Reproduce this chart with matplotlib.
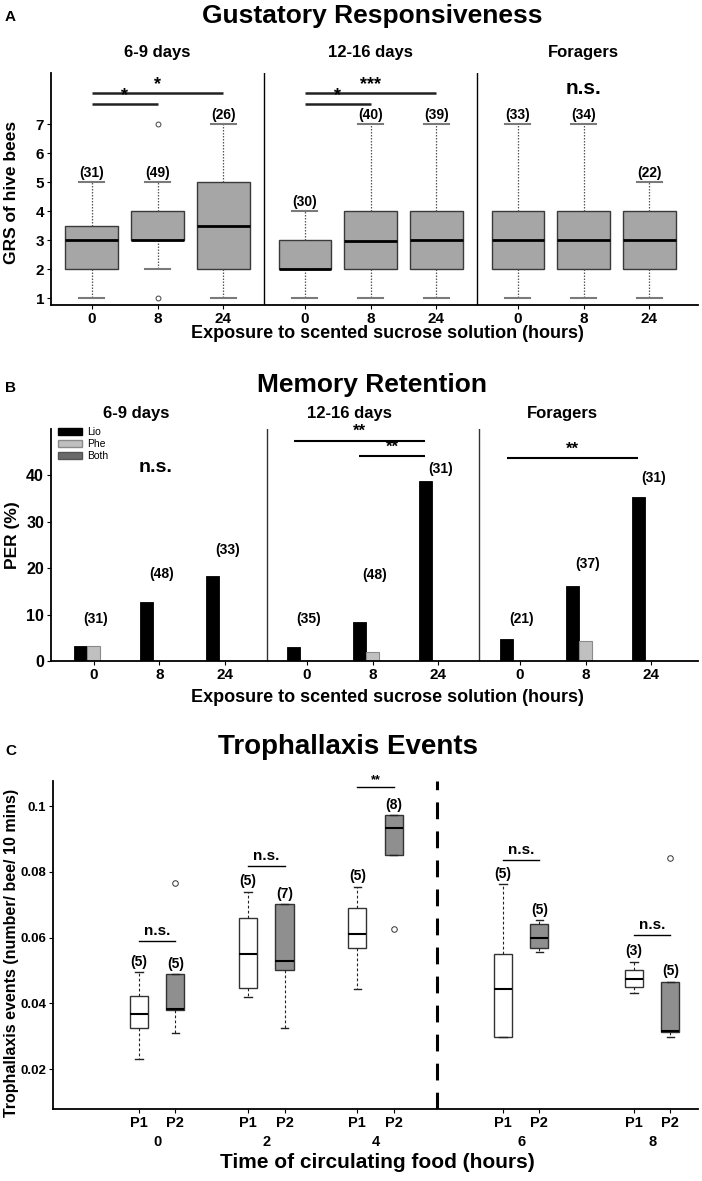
import matplotlib
matplotlib.use('Agg')
import matplotlib.pyplot as plt
import numpy as np
from matplotlib.patches import Patch
from matplotlib.transforms import blended_transform_factory

plt.rcParams['font.family'] = ['Liberation Sans', 'DejaVu Sans']
plt.rcParams['font.weight'] = 'bold'
plt.rcParams['axes.labelweight'] = 'bold'

# ---------------- data ----------------
# Panel A: Gustatory responsiveness (GRS)
A_groups = ['6-9 days', '12-16 days', 'Foragers']
A_hours = ['0', '8', '24']
A_whislo = [[1, 2, 1], [1, 1, 1], [1, 1, 1]]
A_q1 = [[2, 3, 2], [2, 2, 2], [2, 2, 2]]
A_med = [[3, 3, 3.5], [2, 2.97, 3], [3, 3, 3]]
A_q3 = [[3.5, 4, 5], [3, 4, 4], [4, 4, 4]]
A_whishi = [[5, 5, 7], [4, 7, 7], [7, 7, 5]]
A_fliers = [[[], [7, 1], []], [[], [], []], [[], [], []]]
A_n = [[31, 49, 26], [30, 40, 39], [33, 34, 22]]
A_sig_text = ['*', '*', '*', '***']

# Panel B: Memory retention (PER %)
B_series = ['Lio', 'Phe', 'Both']
B_lio = [[3.2, 12.7, 18.3], [3.0, 8.4, 38.7], [4.7, 16.1, 35.3]]
B_phe = [[3.2, 0, 0], [0, 1.9, 0], [0, 4.3, 0]]
B_both = [[0, 0, 0], [0, 0, 0], [0, 0, 0]]
B_n = [[31, 48, 33], [35, 48, 31], [21, 37, 31]]

# Panel C: Trophallaxis events
C_times = ['0', '2', '4', '6', '8']
C_p1_whislo = [0.0232, 0.0420, 0.0443, 0.0299, 0.0431]
C_p1_q1 = [0.0325, 0.0446, 0.0569, 0.0299, 0.0451]
C_p1_med = [0.0367, 0.0550, 0.0611, 0.0445, 0.0473]
C_p1_q3 = [0.0422, 0.0659, 0.0690, 0.0549, 0.0500]
C_p1_whishi = [0.0495, 0.0740, 0.0755, 0.0762, 0.0527]
C_p1_fliers = [[], [], [], [], []]
C_p2_whislo = [0.0310, 0.0326, 0.0850, 0.0555, 0.0299]
C_p2_q1 = [0.0380, 0.0500, 0.0850, 0.0569, 0.0313]
C_p2_med = [0.0383, 0.0529, 0.0932, 0.0600, 0.0315]
C_p2_q3 = [0.0488, 0.0701, 0.0973, 0.0642, 0.0466]
C_p2_whishi = [0.0488, 0.0701, 0.0973, 0.0653, 0.0466]
C_p2_fliers = [[0.0765], [], [0.0626], [], [0.0843]]
C_p1_n = [5, 5, 5, 5, 3]
C_p2_n = [5, 7, 8, 5, 5]
C_sig_text = ['n.s.', 'n.s.', '**', 'n.s.', 'n.s.']

# ---------------- layout helpers ----------------
W, H = 702, 1181
fig = plt.figure(figsize=(W / 100, H / 100), dpi=100)


def fx(px):
    return px / W


def fy(py):
    return 1 - py / H


def axrect(l, t, r, b):
    return [fx(l), fy(b), (r - l) / W, (b - t) / H]


def style_axes(ax):
    for s in ['top', 'right']:
        ax.spines[s].set_visible(False)
    for s in ['left', 'bottom']:
        ax.spines[s].set_linewidth(1.3)
        ax.spines[s].set_color('black')


# ================= Panel A =================
axA = fig.add_axes(axrect(51, 73, 698, 305))
style_axes(axA)
posA = []
statsA = []
for g in range(3):
    for i in range(3):
        posA.append(g * 3.24 + i)
        statsA.append(dict(whislo=A_whislo[g][i], q1=A_q1[g][i], med=A_med[g][i],
                           q3=A_q3[g][i], whishi=A_whishi[g][i],
                           fliers=np.array(A_fliers[g][i], dtype=float)))
axA.bxp(statsA, positions=posA, widths=0.8, patch_artist=True, showfliers=True,
        capwidths=0.38,
        boxprops=dict(facecolor='#a6a6a6', edgecolor='#3a3a3a', linewidth=1.0),
        medianprops=dict(color='black', linewidth=2.0),
        whiskerprops=dict(color='#555555', linestyle=(0, (1.2, 1.2)), linewidth=0.9),
        capprops=dict(color='#7a7a7a', linewidth=1.5),
        flierprops=dict(marker='o', markersize=3.5, markerfacecolor='white',
                        markeredgecolor='#444444', markeredgewidth=0.7))
axA.set_xlim(-0.62, 9.22)
axA.set_ylim(0.76, 8.76)
axA.set_yticks(range(1, 8))
axA.set_xticks(posA)
axA.set_xticklabels(A_hours * 3)
axA.tick_params(labelsize=11, length=3, width=0.8, pad=2)
for xs in [2.62, 5.86]:
    axA.axvline(xs, color='black', lw=1.0)
for g in range(3):
    for i in range(3):
        axA.text(posA[g * 3 + i], A_whishi[g][i] + 0.31, f'({A_n[g][i]})',
                 ha='center', va='center', fontsize=10)
# significance bars
sigA = [(0, 1, 7.68), (0, 2, 8.06), (3, 4, 7.68), (3, 5, 8.06)]
for (a, b, y), t in zip(sigA, A_sig_text):
    axA.plot([posA[a], posA[b]], [y, y], color='#222222', lw=1.8, clip_on=False,
             solid_capstyle='butt')
    axA.text((posA[a] + posA[b]) / 2, y + 0.02, t, ha='center', va='bottom',
             fontsize=13)
axA.text(posA[7], 8.24, 'n.s.', ha='center', va='center', fontsize=15)

fig.text(fx(10.5), fy(17), 'A', ha='center', va='center', fontsize=11)
fig.text(fx(372), fy(16), 'Gustatory Responsiveness', ha='center', va='center', fontsize=19)
for g, name in enumerate(A_groups):
    fig.text(fx([157, 370, 583][g]), fy(53), name, ha='center', va='center', fontsize=12)
fig.text(fx(12), fy(192), 'GRS of hive bees', ha='center', va='center',
         rotation=90, fontsize=12.5)
fig.text(fx(387), fy(333), 'Exposure to scented sucrose solution (hours)',
         ha='center', va='center', fontsize=13)

# ================= Panel B =================
axB = fig.add_axes(axrect(51, 429, 698, 661))
style_axes(axB)
posB = np.array(posA)
lio = np.array(B_lio).ravel()
phe = np.array(B_phe).ravel()
both = np.array(B_both).ravel()
bw = 0.2
axB.bar(posB - bw, lio, width=bw, color='black', edgecolor='black', linewidth=0.6)
axB.bar(posB, phe, width=bw, color='#c0c0c0', edgecolor='#8a8a8a', linewidth=0.8)
axB.bar(posB + bw, both, width=bw, color='#666666', edgecolor='#555555', linewidth=0.6)
axB.set_xlim(-0.65, 9.19)
axB.set_ylim(0, 50)
axB.set_yticks([0, 10, 20, 30, 40])
axB.set_xticks(posB)
axB.set_xticklabels(A_hours * 3)
axB.tick_params(labelsize=11, length=3, width=0.8, pad=2)
axB.tick_params(axis='y', labelsize=11.5)
for xs in [2.64, 5.86]:
    axB.axvline(xs, color='#333333', lw=1.0)
n_y_B = [[9, 18.7, 24], [9, 18.5, 41.3], [9, 21, 39.4]]
for g in range(3):
    for i in range(3):
        axB.text(posB[g * 3 + i] + 0.03, n_y_B[g][i], f'({B_n[g][i]})',
                 ha='center', va='center', fontsize=10)
sigB = [(3, 5, 47.5), (4, 5, 44.1), (6, 8, 43.7)]
for a, b, y in sigB:
    axB.plot([posB[a] - bw, posB[b] - bw], [y, y], color='black', lw=1.5,
             clip_on=False, solid_capstyle='butt')
    axB.text((posB[a] + posB[b]) / 2 - bw, y + 0.3, '**', ha='center', va='bottom',
             fontsize=12)
axB.text(posB[1] - 0.06, 41.7, 'n.s.', ha='center', va='center', fontsize=14)
handles = [Patch(facecolor='black', edgecolor='black'),
           Patch(facecolor='#c0c0c0', edgecolor='#8a8a8a'),
           Patch(facecolor='#6a6a6a', edgecolor='#555555')]
axB.legend(handles, B_series, loc='upper left', bbox_to_anchor=(fx(58), fy(427)),
           bbox_transform=fig.transFigure, frameon=False,
           prop={'weight': 'normal', 'size': 7.5}, handlelength=2.3,
           handleheight=0.65, handletextpad=0.5, labelspacing=0.2, borderpad=0,
           borderaxespad=0)

fig.text(fx(11), fy(388), 'B', ha='center', va='center', fontsize=11)
fig.text(fx(372), fy(385), 'Memory Retention', ha='center', va='center', fontsize=19)
for g, name in enumerate(A_groups):
    fig.text(fx([136, 349, 562][g]), fy(413), name, ha='center', va='center', fontsize=12)
fig.text(fx(12), fy(535), 'PER (%)', ha='center', va='center', rotation=90,
         fontsize=12.5)
fig.text(fx(387), fy(697), 'Exposure to scented sucrose solution (hours)',
         ha='center', va='center', fontsize=13)

# ================= Panel C =================
axC = fig.add_axes(axrect(53, 781, 698, 1109))
style_axes(axC)
grp = np.array([1, 4, 7, 11, 14.6])
p1 = grp
p2 = grp + 1
stats1 = [dict(whislo=C_p1_whislo[k], q1=C_p1_q1[k], med=C_p1_med[k], q3=C_p1_q3[k],
               whishi=C_p1_whishi[k], fliers=np.array(C_p1_fliers[k], dtype=float))
          for k in range(5)]
stats2 = [dict(whislo=C_p2_whislo[k], q1=C_p2_q1[k], med=C_p2_med[k], q3=C_p2_q3[k],
               whishi=C_p2_whishi[k], fliers=np.array(C_p2_fliers[k], dtype=float))
          for k in range(5)]
common = dict(widths=0.5, patch_artist=True, showfliers=True, capwidths=0.2,
              medianprops=dict(color='black', linewidth=1.5),
              whiskerprops=dict(color='#222222', linestyle=(0, (2.5, 2)), linewidth=0.8),
              capprops=dict(color='#222222', linewidth=1.0),
              flierprops=dict(marker='o', markersize=4, markerfacecolor='white',
                              markeredgecolor='#333333', markeredgewidth=0.7))
axC.bxp(stats1, positions=p1, boxprops=dict(facecolor='white', edgecolor='#333333',
                                            linewidth=1.0), **common)
axC.bxp(stats2, positions=p2, boxprops=dict(facecolor='#8f8f8f', edgecolor='#333333',
                                            linewidth=1.0), **common)
axC.set_xlim(-1.36, 16.36)
axC.set_ylim(0.0079, 0.1076)
axC.set_yticks([0.02, 0.04, 0.06, 0.08, 0.1])
axC.set_yticklabels(['0.02', '0.04', '0.06', '0.08', '0.1'])
xt = np.ravel(np.column_stack([p1, p2]))
axC.set_xticks(xt)
axC.set_xticklabels(['P1', 'P2'] * 5)
axC.tick_params(labelsize=10.5, length=3, width=0.8, pad=2)
axC.tick_params(axis='y', labelsize=9.5)
trC = blended_transform_factory(axC.transData, axC.transAxes)
for k, t in enumerate(C_times):
    axC.text((p1[k] + p2[k]) / 2, -0.1006, t, transform=trC, ha='center',
             va='center', fontsize=10.5)
axC.axvline(9.2, color='black', lw=2.2, linestyle=(0, (5.5, 4)))
for k in range(5):
    axC.text(p1[k], C_p1_whishi[k] + 0.0031, f'({C_p1_n[k]})', ha='center',
             va='center', fontsize=10)
    axC.text(p2[k], C_p2_whishi[k] + 0.0031, f'({C_p2_n[k]})', ha='center',
             va='center', fontsize=10)
sigC_y = [0.0590, 0.0818, 0.1058, 0.0836, 0.0607]
for k in range(5):
    y = sigC_y[k]
    axC.plot([p1[k], p2[k]], [y, y], color='black', lw=1.0, clip_on=False)
    if C_sig_text[k] == '**':
        axC.text((p1[k] + p2[k]) / 2, y + 0.0002, '**', ha='center', va='bottom',
                 fontsize=9, clip_on=False)
    else:
        axC.text((p1[k] + p2[k]) / 2, y + 0.0009, 'n.s.', ha='center', va='bottom',
                 fontsize=11)

fig.text(fx(11), fy(751), 'C', ha='center', va='center', fontsize=11)
fig.text(fx(348), fy(747), 'Trophallaxis Events', ha='center', va='center', fontsize=20)
fig.text(fx(12), fy(953), 'Trophallaxis events (number/ bee/ 10 mins)', ha='center',
         va='center', rotation=90, fontsize=11.5)
fig.text(fx(377), fy(1163), 'Time of circulating food (hours)', ha='center',
         va='center', fontsize=15)

fig.savefig('out.png', dpi=100)
